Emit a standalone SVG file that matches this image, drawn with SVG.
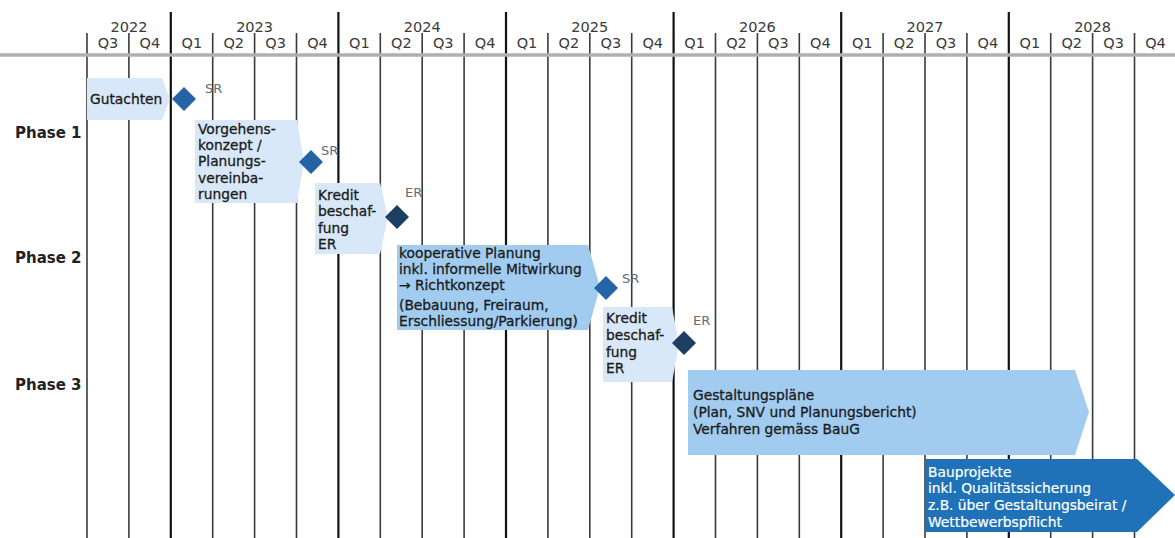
<svg xmlns="http://www.w3.org/2000/svg" width="1175" height="538" viewBox="0 0 1175 538">
<style>
.q{stroke:#3a3a3a;stroke-width:1.6}
.y{stroke:#111;stroke-width:2.2}
.hd{font-family:"DejaVu Sans",Verdana,sans-serif;font-size:14.5px;fill:#3a3a3a;text-anchor:middle}
.ph{font-family:"DejaVu Sans",Verdana,sans-serif;font-size:15px;font-weight:bold;fill:#222}
.bt{font-family:"DejaVu Sans",Verdana,sans-serif;font-size:13.8px;fill:#1b1b1b;stroke:#1b1b1b;stroke-width:0.3}
.wt{font-family:"DejaVu Sans",Verdana,sans-serif;font-size:13.8px;fill:#fff;stroke:#fff;stroke-width:0.2}
.ms{font-family:"DejaVu Sans",Verdana,sans-serif;font-size:13px;fill:#5f6b7a}
.lt{fill:#d8e8f8}
.md{fill:#a1ccef}
.dk{fill:#1f72b8}
.sr{fill:#2463a6}
.er{fill:#1c3e61}
</style>
<rect width="1175" height="538" fill="#fff"/>
<g id="grid">
<line class="q" x1="87" y1="33" x2="87" y2="538"/>
<line class="q" x1="128.9" y1="33" x2="128.9" y2="538"/>
<line class="y" x1="170.8" y1="12" x2="170.8" y2="538"/>
<line class="q" x1="212.7" y1="33" x2="212.7" y2="538"/>
<line class="q" x1="254.6" y1="33" x2="254.6" y2="538"/>
<line class="q" x1="296.5" y1="33" x2="296.5" y2="538"/>
<line class="y" x1="338.4" y1="12" x2="338.4" y2="538"/>
<line class="q" x1="380.3" y1="33" x2="380.3" y2="538"/>
<line class="q" x1="422.2" y1="33" x2="422.2" y2="538"/>
<line class="q" x1="464.1" y1="33" x2="464.1" y2="538"/>
<line class="y" x1="506" y1="12" x2="506" y2="538"/>
<line class="q" x1="547.9" y1="33" x2="547.9" y2="538"/>
<line class="q" x1="589.8" y1="33" x2="589.8" y2="538"/>
<line class="q" x1="631.7" y1="33" x2="631.7" y2="538"/>
<line class="y" x1="673.6" y1="12" x2="673.6" y2="538"/>
<line class="q" x1="715.5" y1="33" x2="715.5" y2="538"/>
<line class="q" x1="757.4" y1="33" x2="757.4" y2="538"/>
<line class="q" x1="799.3" y1="33" x2="799.3" y2="538"/>
<line class="y" x1="841.2" y1="12" x2="841.2" y2="538"/>
<line class="q" x1="883.1" y1="33" x2="883.1" y2="538"/>
<line class="q" x1="925" y1="33" x2="925" y2="538"/>
<line class="q" x1="966.9" y1="33" x2="966.9" y2="538"/>
<line class="y" x1="1008.8" y1="12" x2="1008.8" y2="538"/>
<line class="q" x1="1050.7" y1="33" x2="1050.7" y2="538"/>
<line class="q" x1="1092.6" y1="33" x2="1092.6" y2="538"/>
<line class="q" x1="1134.5" y1="33" x2="1134.5" y2="538"/>
<line x1="0" y1="55" x2="1175" y2="55" stroke="#b0b0b0" stroke-width="3.5"/>
</g>
<g id="header">
<text class="hd" x="129" y="32">2022</text>
<text class="hd" x="254.6" y="32">2023</text>
<text class="hd" x="422.2" y="32">2024</text>
<text class="hd" x="589.8" y="32">2025</text>
<text class="hd" x="757.4" y="32">2026</text>
<text class="hd" x="925" y="32">2027</text>
<text class="hd" x="1092.6" y="32">2028</text>
<text class="hd" x="108" y="48">Q3</text>
<text class="hd" x="149.9" y="48">Q4</text>
<text class="hd" x="191.8" y="48">Q1</text>
<text class="hd" x="233.7" y="48">Q2</text>
<text class="hd" x="275.6" y="48">Q3</text>
<text class="hd" x="317.5" y="48">Q4</text>
<text class="hd" x="359.4" y="48">Q1</text>
<text class="hd" x="401.3" y="48">Q2</text>
<text class="hd" x="443.2" y="48">Q3</text>
<text class="hd" x="485.1" y="48">Q4</text>
<text class="hd" x="527" y="48">Q1</text>
<text class="hd" x="568.9" y="48">Q2</text>
<text class="hd" x="610.8" y="48">Q3</text>
<text class="hd" x="652.7" y="48">Q4</text>
<text class="hd" x="694.6" y="48">Q1</text>
<text class="hd" x="736.5" y="48">Q2</text>
<text class="hd" x="778.4" y="48">Q3</text>
<text class="hd" x="820.3" y="48">Q4</text>
<text class="hd" x="862.2" y="48">Q1</text>
<text class="hd" x="904.1" y="48">Q2</text>
<text class="hd" x="946" y="48">Q3</text>
<text class="hd" x="987.9" y="48">Q4</text>
<text class="hd" x="1029.8" y="48">Q1</text>
<text class="hd" x="1071.7" y="48">Q2</text>
<text class="hd" x="1113.6" y="48">Q3</text>
<text class="hd" x="1155.5" y="48">Q4</text>
</g>
<g id="phases">
<text class="ph" x="15" y="138">Phase 1</text>
<text class="ph" x="15" y="263">Phase 2</text>
<text class="ph" x="15" y="390">Phase 3</text>
</g>
<g id="gutachten">
<polygon class="lt" points="87,78 162,78 170,99 162,120 87,120"/>
<text class="bt" x="90" y="104">Gutachten</text>
</g>
<g id="vorgehen">
<polygon class="lt" points="195,120 297,120 304,162 297,203 195,203"/>
<text class="bt" x="198" y="134">Vorgehens-</text>
<text class="bt" x="198" y="150">konzept /</text>
<text class="bt" x="198" y="166">Planungs-</text>
<text class="bt" x="198" y="183">vereinba-</text>
<text class="bt" x="198" y="199">rungen</text>
</g>
<g id="kredit1">
<polygon class="lt" points="315,183 380,183 388,217 380,254 315,254"/>
<text class="bt" x="318" y="200">Kredit</text>
<text class="bt" x="318" y="216">beschaf-</text>
<text class="bt" x="318" y="233">fung</text>
<text class="bt" x="318" y="249">ER</text>
</g>
<g id="kooperativ">
<polygon class="md" points="397,245 588,245 600,287 588,330 397,330"/>
<text class="bt" x="399" y="258">kooperative Planung</text>
<text class="bt" x="399" y="274">inkl. informelle Mitwirkung</text>
<text class="bt" x="399" y="290">→ Richtkonzept</text>
<text class="bt" x="399" y="310">(Bebauung, Freiraum,</text>
<text class="bt" x="399" y="326">Erschliessung/Parkierung)</text>
</g>
<g id="kredit2">
<polygon class="lt" points="603,307 672,307 679,344 672,382 603,382"/>
<text class="bt" x="606" y="323">Kredit</text>
<text class="bt" x="606" y="340">beschaf-</text>
<text class="bt" x="606" y="357">fung</text>
<text class="bt" x="606" y="373">ER</text>
</g>
<g id="gestaltung">
<polygon class="md" points="688,370 1075,370 1089,412 1075,455 688,455"/>
<text class="bt" x="693" y="400">Gestaltungspläne</text>
<text class="bt" x="693" y="417">(Plan, SNV und Planungsbericht)</text>
<text class="bt" x="693" y="434">Verfahren gemäss BauG</text>
</g>
<g id="bauprojekte">
<polygon class="dk" points="925,459 1137,459 1175,495 1137,532 925,532"/>
<text class="wt" x="928" y="477">Bauprojekte</text>
<text class="wt" x="928" y="493">inkl. Qualitätssicherung</text>
<text class="wt" x="928" y="510">z.B. über Gestaltungsbeirat /</text>
<text class="wt" x="928" y="527">Wettbewerbspflicht</text>
</g>
<g id="connectors">
<g id="m-sr1"><polygon class="sr" points="184,87 196,99 184,111 172,99"/><text class="ms" x="205" y="93">SR</text></g>
<g id="m-sr2"><polygon class="sr" points="311,150 323,162 311,174 299,162"/><text class="ms" x="321" y="155">SR</text></g>
<g id="m-er1"><polygon class="er" points="397,205 409,217 397,229 385,217"/><text class="ms" x="405" y="197">ER</text></g>
<g id="m-sr3"><polygon class="sr" points="606,276 618,288 606,300 594,288"/><text class="ms" x="622" y="283">SR</text></g>
<g id="m-er2"><polygon class="er" points="684,331 696,343 684,355 672,343"/><text class="ms" x="693" y="325">ER</text></g>
</g>
</svg>
